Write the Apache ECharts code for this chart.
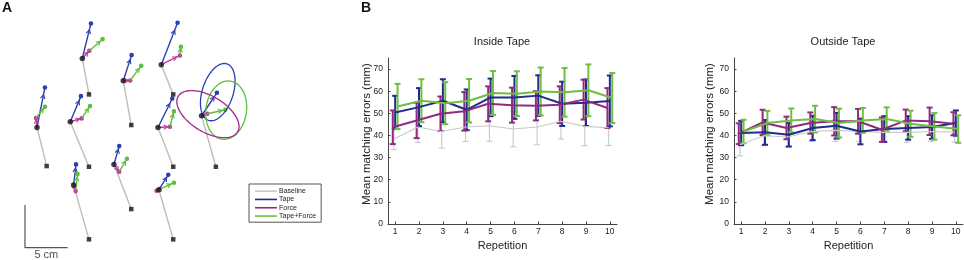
<!DOCTYPE html>
<html>
<head>
<meta charset="utf-8">
<script src="https://cdn.jsdelivr.net/npm/echarts@6/dist/echarts.min.js"></script>
<style>
  html, body { margin: 0; padding: 0; background: #fff; }
  #chart { width: 964px; height: 260px; }
</style>
</head>
<body>
<div id="chart"></div>
<script>
var chartDom = document.getElementById('chart');
var myChart = echarts.init(chartDom);
var FONT = 'Liberation Sans, Arial, sans-serif';

// ---- panel A : arm postures, in cm (origin at the scale bar corner)
var jointPos = [[6.72, 22.19], [11.52, 19.57], [15.98, 21.45], [1.41, 14.1], [5.31, 14.77],
  [15.59, 14.1], [20.7, 15.47], [5.7, 7.34], [10.43, 9.77], [15.7, 6.8]];
var basePos = [[7.5, 17.97], [12.46, 14.38], [17.38, 17.97], [2.54, 9.57], [7.5, 9.49],
  [17.38, 9.49], [22.38, 9.49], [7.5, 0.98], [12.46, 4.53], [17.38, 0.98]];
var tapeEnd = [[7.73, 26.29], [12.5, 22.58], [17.89, 26.37], [2.34, 18.79], [6.56, 17.77],
  [17.27, 17.5], [22.5, 18.16], [5.98, 9.77], [11.05, 11.91], [16.8, 8.55]];
var forceEnd = [[7.54, 23.09], [12.34, 19.61], [18.16, 22.54], [1.29, 15.2], [6.64, 15.16],
  [16.99, 14.18], [21.37, 15.7], [5.94, 6.64], [11.05, 8.91], [15.43, 6.68]];
var tapeForceEnd = [[9.1, 24.45], [13.63, 21.33], [18.28, 23.55], [2.34, 16.52], [7.62, 16.6],
  [17.46, 15.98], [23.48, 16.17], [6.17, 8.63], [11.95, 10.43], [17.46, 7.62]];
// ellipses: [cx, cy, semi major, semi minor, angle deg]
var ellipseTape = [22.6, 18.24, 3.48, 1.81, 72];
var ellipseForce = [21.45, 15.66, 4.06, 2.11, -31];
var ellipseTapeForce = [23.59, 16.13, 3.44, 2.38, 82];
var scaleBar = [[0, 5], [0, 0], [5, 0]];

// ---- panel B : mean matching errors (mm)
var reps = [1, 2, 3, 4, 5, 6, 7, 8, 9, 10];
var yTicks = [0, 10, 20, 30, 40, 50, 60, 70];
var conditions = ['Baseline', 'Tape', 'Force', 'Tape+Force'];

var baselineIn = [38.4, 43.8, 41.8, 43.8, 44.4, 42.9, 43.8, 46.4, 44.1, 43.5];
var baselineInErr = [4.8, 7, 7.5, 6.5, 7, 8, 8, 8, 8.7, 8];
var tapeIn = [50.4, 52.8, 55.7, 51.6, 57.2, 57.2, 58.0, 54.3, 54.8, 55.6];
var tapeInErr = [7.5, 8.6, 9.7, 9.2, 8.5, 9.7, 9.2, 10, 10.5, 11.5];
var forceIn = [43.7, 46.8, 49.8, 50.9, 54.3, 53.7, 53.4, 53.9, 56.2, 52.4];
var forceInErr = [7.6, 8, 7.8, 8.7, 7.9, 7.9, 6.6, 8.3, 9, 9];
var tapeForceIn = [53.1, 55.7, 54.6, 55.7, 59.2, 58.9, 59.9, 59.5, 60.4, 56.9];
var tapeForceInErr = [10.2, 9.7, 9.5, 9.8, 9.9, 10.1, 10.8, 11, 11.7, 11.3];

var baselineOut = [35.8, 39.9, 39.3, 41.8, 42.3, 41.8, 41.4, 41.4, 41.8, 41.5];
var baselineOutErr = [5, 4.5, 4.5, 4.5, 5, 4.5, 4.5, 4.5, 4.5, 4.5];
var tapeOut = [41.1, 41.4, 40.3, 43.4, 44.4, 41.8, 42.9, 43.4, 43.8, 45.6];
var tapeOutErr = [5.5, 5.6, 5.3, 5.5, 5.8, 5.8, 5.8, 5.3, 5.3, 5.7];
var forceOut = [40.8, 45.9, 43.4, 45.6, 46.4, 46.4, 42.6, 46.8, 46.4, 45.3];
var forceOutErr = [4.7, 5.7, 5.1, 4.8, 6.4, 5.6, 5.5, 4.9, 6.2, 5.2];
var tapeForceOut = [41.8, 45.6, 46.8, 47.4, 45.6, 46.8, 47.4, 45.3, 44.1, 42.9];
var tapeForceOutErr = [5.3, 5.5, 5.4, 6, 6.5, 5.6, 5.3, 5.9, 6, 6.2];

var colorsA = { tape: '#2b3fae', force: '#c23a9e', tapeForce: '#5dbe3e' };
var colorsB = ['#c8c8c8', '#1f2d8c', '#902b80', '#6fbe42'];
var dodge = [-0.05, 0, -0.1, 0.1];

// arrow from (v0,v1) to (v2,v3) with an open head and a dot at the end
function vectorItem(color) {
  return function (params, api) {
    var p0 = api.coord([api.value(0), api.value(1)]);
    var p1 = api.coord([api.value(2), api.value(3)]);
    var dx = p1[0] - p0[0], dy = p1[1] - p0[1];
    var len = Math.sqrt(dx * dx + dy * dy) || 1;
    var ux = dx / len, uy = dy / len;
    var tip = [p0[0] + dx * 0.82, p0[1] + dy * 0.82];
    var h = 4, w = 2.2;
    var l = [tip[0] - ux * h - uy * w, tip[1] - uy * h + ux * w];
    var r = [tip[0] - ux * h + uy * w, tip[1] - uy * h - ux * w];
    return {
      type: 'group',
      children: [
        { type: 'line', shape: { x1: p0[0], y1: p0[1], x2: p1[0], y2: p1[1] }, style: { stroke: color, lineWidth: 1.4 } },
        { type: 'polyline', shape: { points: [l, tip, r] }, style: { stroke: color, fill: null, lineWidth: 1.1 } },
        { type: 'circle', shape: { cx: p1[0], cy: p1[1], r: 2.3 }, style: { fill: color } }
      ]
    };
  };
}

function ellipseItem(params, api) {
  var cx = api.value(0), cy = api.value(1), a = api.value(2), b = api.value(3);
  var th = api.value(4) * Math.PI / 180;
  var pts = [];
  for (var k = 0; k < 96; k++) {
    var t = k / 96 * 2 * Math.PI;
    var ex = a * Math.cos(t), ey = b * Math.sin(t);
    pts.push(api.coord([cx + ex * Math.cos(th) - ey * Math.sin(th), cy + ex * Math.sin(th) + ey * Math.cos(th)]));
  }
  return { type: 'polygon', shape: { points: pts }, style: { fill: null, stroke: api.visual('color'), lineWidth: 1.3 } };
}

function errorItem(width) {
  return function (params, api) {
    var x = api.value(0);
    var lo = api.coord([x, api.value(1)]);
    var hi = api.coord([x, api.value(2)]);
    var c = 3;
    var st = { stroke: api.visual('color'), lineWidth: width };
    return {
      type: 'group',
      children: [
        { type: 'line', shape: { x1: lo[0], y1: lo[1], x2: hi[0], y2: hi[1] }, style: st },
        { type: 'line', shape: { x1: lo[0] - c, y1: lo[1], x2: lo[0] + c, y2: lo[1] }, style: st },
        { type: 'line', shape: { x1: hi[0] - c, y1: hi[1], x2: hi[0] + c, y2: hi[1] }, style: st }
      ]
    };
  };
}

function pairs(from, to) {
  return from.map(function (p, i) { return [p[0], p[1], to[i][0], to[i][1]]; });
}

var series = [
  {
    type: 'custom', xAxisIndex: 0, yAxisIndex: 0, silent: true,
    renderItem: function (params, api) {
      var a = api.coord([api.value(0), api.value(1)]);
      var b = api.coord([api.value(2), api.value(3)]);
      return { type: 'line', shape: { x1: a[0], y1: a[1], x2: b[0], y2: b[1] }, style: { stroke: '#bdbdbd', lineWidth: 1.4 } };
    },
    data: pairs(jointPos, basePos)
  },
  { type: 'custom', xAxisIndex: 0, yAxisIndex: 0, silent: true, renderItem: vectorItem(colorsA.tape), data: pairs(jointPos, tapeEnd) },
  { type: 'custom', xAxisIndex: 0, yAxisIndex: 0, silent: true, renderItem: vectorItem(colorsA.force), data: pairs(jointPos, forceEnd) },
  { type: 'custom', xAxisIndex: 0, yAxisIndex: 0, silent: true, renderItem: vectorItem(colorsA.tapeForce), data: pairs(forceEnd, tapeForceEnd) },
  { type: 'custom', xAxisIndex: 0, yAxisIndex: 0, silent: true, renderItem: ellipseItem, itemStyle: { color: colorsA.tape }, data: [ellipseTape] },
  { type: 'custom', xAxisIndex: 0, yAxisIndex: 0, silent: true, renderItem: ellipseItem, itemStyle: { color: colorsA.tapeForce }, data: [ellipseTapeForce] },
  { type: 'custom', xAxisIndex: 0, yAxisIndex: 0, silent: true, renderItem: ellipseItem, itemStyle: { color: '#a0288e' }, data: [ellipseForce] },
  { type: 'scatter', xAxisIndex: 0, yAxisIndex: 0, silent: true, symbol: 'circle', symbolSize: 5.5, itemStyle: { color: '#111' }, data: jointPos },
  { type: 'scatter', xAxisIndex: 0, yAxisIndex: 0, silent: true, symbol: 'rect', symbolSize: 4.5, itemStyle: { color: '#111' }, data: basePos },
  {
    type: 'line', xAxisIndex: 0, yAxisIndex: 0, silent: true, symbol: 'none',
    lineStyle: { color: '#555', width: 1.2 }, data: scaleBar
  },
  {
    type: 'scatter', xAxisIndex: 0, yAxisIndex: 0, silent: true, symbolSize: 0,
    label: { show: true, position: 'bottom', distance: 2, formatter: '5 cm', fontSize: 11, color: '#222', fontFamily: FONT },
    data: [[(scaleBar[1][0] + scaleBar[2][0]) / 2, scaleBar[1][1]]]
  }
];

var panels = [
  { means: [baselineIn, tapeIn, forceIn, tapeForceIn], errs: [baselineInErr, tapeInErr, forceInErr, tapeForceInErr] },
  { means: [baselineOut, tapeOut, forceOut, tapeForceOut], errs: [baselineOutErr, tapeOutErr, forceOutErr, tapeForceOutErr] }
];

panels.forEach(function (p, pi) {
  var ax = pi + 1;
  conditions.forEach(function (name, ci) {
    var m = p.means[ci], e = p.errs[ci];
    var w = ci === 0 ? 1.1 : 2;
    series.push({
      type: 'custom', name: name + ' SD', xAxisIndex: ax, yAxisIndex: ax, silent: true,
      itemStyle: { color: colorsB[ci] },
      renderItem: errorItem(w),
      encode: { x: 0, y: [1, 2] },
      data: reps.map(function (r, i) { return [r + dodge[ci], m[i] - e[i], m[i] + e[i]]; })
    });
    series.push({
      type: 'line', name: name, xAxisIndex: ax, yAxisIndex: ax, silent: true,
      symbol: 'none',
      itemStyle: { color: colorsB[ci] },
      lineStyle: { color: colorsB[ci], width: w },
      data: reps.map(function (r, i) { return [r + dodge[ci], m[i]]; })
    });
  });
});

function bXAxis(gi) {
  return {
    type: 'value', gridIndex: gi, min: 0.7, max: 10.3,
    name: 'Repetition', nameLocation: 'middle', nameGap: 14,
    nameTextStyle: { fontSize: 11, color: '#222', fontFamily: FONT },
    axisLine: { lineStyle: { color: '#444', width: 1 } },
    axisTick: { inside: true, length: 2.5, customValues: reps, lineStyle: { color: '#444' } },
    axisLabel: { customValues: reps, fontSize: 8.5, color: '#222', margin: 3, fontFamily: FONT },
    splitLine: { show: false }
  };
}
function bYAxis(gi, gap) {
  return {
    type: 'value', gridIndex: gi, min: 0, max: 75,
    name: 'Mean matching errors (mm)', nameLocation: 'middle', nameGap: gap, nameRotate: 90,
    nameMoveOverlap: false,
    nameTextStyle: { fontSize: 11.5, color: '#222', fontFamily: FONT, padding: [0, 0, 0, 14] },
    axisLine: { show: true, lineStyle: { color: '#444', width: 1 } },
    axisTick: { show: true, inside: true, length: 2.5, customValues: yTicks, lineStyle: { color: '#444' } },
    axisLabel: { customValues: yTicks, fontSize: 8.5, color: '#222', margin: 5, fontFamily: FONT },
    splitLine: { show: false }
  };
}

var option = {
  animation: false,
  textStyle: { fontFamily: FONT },
  title: [
    { text: 'A', left: 2, top: 1, padding: 0, textStyle: { fontSize: 14, fontWeight: 'bold', color: '#111', fontFamily: FONT } },
    { text: 'B', left: 361, top: 1, padding: 0, textStyle: { fontSize: 14, fontWeight: 'bold', color: '#111', fontFamily: FONT } },
    { text: 'Inside Tape', left: 502, top: 36, padding: 0, textAlign: 'center', textStyle: { fontSize: 11, fontWeight: 'normal', color: '#222', fontFamily: FONT } },
    { text: 'Outside Tape', left: 843, top: 36, padding: 0, textAlign: 'center', textStyle: { fontSize: 11, fontWeight: 'normal', color: '#222', fontFamily: FONT } }
  ],
  legend: {
    data: conditions, orient: 'vertical', left: 249, top: 184,
    icon: 'rect', itemWidth: 22, itemHeight: 1.6, itemGap: 0,
    padding: [3, 5, 2, 6], borderColor: '#555', borderWidth: 1,
    selectedMode: false,
    textStyle: { fontSize: 7, lineHeight: 8.3, color: '#222', fontFamily: FONT, padding: [0, 0, 0, -3] }
  },
  grid: [
    { left: 0, top: 0, width: 330, height: 260 },
    { left: 388, top: 58, width: 229, height: 166 },
    { left: 734, top: 58, width: 229, height: 166 }
  ],
  xAxis: [
    { type: 'value', gridIndex: 0, min: -2.93, max: 35.76, show: false },
    bXAxis(1), bXAxis(2)
  ],
  yAxis: [
    { type: 'value', gridIndex: 0, min: -1.44, max: 29.04, show: false },
    bYAxis(1, 15), bYAxis(2, 18)
  ],
  series: series
};

option && myChart.setOption(option);
window.addEventListener('resize', function () { myChart.resize(); });
</script>
</body>
</html>
